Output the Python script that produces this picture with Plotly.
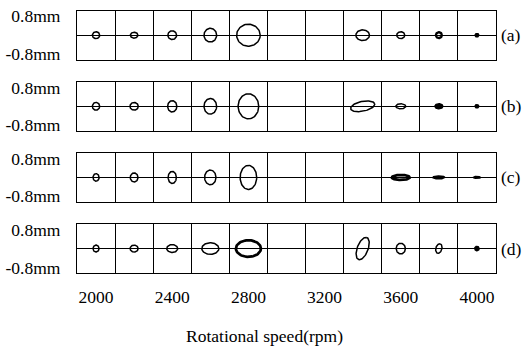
import numpy as np
import plotly.graph_objects as go

# ---------------- data ----------------
speeds = [2000, 2200, 2400, 2600, 2800, 3000, 3200, 3400, 3600, 3800, 4000]
tick_speeds = [2000, 2400, 2800, 3200, 3600, 4000]
row_labels = ["(a)", "(b)", "(c)", "(d)"]
y_tick_vals = [0.8, -0.8]
y_tick_text = ["0.8mm", "-0.8mm"]

# orbit peak-to-peak amplitudes (mm): first axis, second axis, and tilt of first axis (deg)
orbit_a_1 = [0.30, 0.31, 0.36, 0.52, 0.97, None, None, 0.56, 0.33, 0.25, 0.16]
orbit_a_2 = [0.29, 0.25, 0.37, 0.58, 0.93, None, None, 0.45, 0.29, 0.25, 0.14]
orbit_a_tilt = [0, 0, 0, 0, 0, 0, 0, 0, 0, 0, 0]

orbit_b_1 = [0.30, 0.34, 0.38, 0.52, 0.85, None, None, 1.01, 0.41, 0.33, 0.16]
orbit_b_2 = [0.33, 0.33, 0.48, 0.66, 1.06, None, None, 0.41, 0.21, 0.21, 0.14]
orbit_b_tilt = [0, 0, 0, 0, 0, 0, 0, 12, 0, 0, 0]

orbit_c_1 = [0.25, 0.32, 0.34, 0.47, 0.68, None, None, None, 0.74, 0.49, 0.29]
orbit_c_2 = [0.32, 0.38, 0.51, 0.62, 1.02, None, None, None, 0.21, 0.12, 0.08]
orbit_c_tilt = [0, 0, 0, 0, 0, 0, 0, 0, 0, 0, 0]

orbit_d_1 = [0.25, 0.33, 0.45, 0.70, 1.03, None, None, 0.99, 0.38, 0.41, 0.18]
orbit_d_2 = [0.29, 0.29, 0.33, 0.49, 0.70, None, None, 0.45, 0.45, 0.25, 0.18]
orbit_d_tilt = [0, 0, 0, 0, 0, 0, 0, 70, 0, 75, 0]

rows = [
    (orbit_a_1, orbit_a_2, orbit_a_tilt),
    (orbit_b_1, orbit_b_2, orbit_b_tilt),
    (orbit_c_1, orbit_c_2, orbit_c_tilt),
    (orbit_d_1, orbit_d_2, orbit_d_tilt),
]

# ---------------- styling / layout ----------------
W, H = 527, 350
FONT = "Liberation Serif"
FS = 17.5
x_left, x_right = 77, 496
row_px = [(7, 57), (80, 130), (153, 203), (226, 276)]
y_half = 1.03
x_lo = speeds[0] - 100
x_hi = speeds[-1] + 100

# pixel scales -> convert mm horizontal into rpm units so orbits stay isotropic
px_per_mm = (row_px[0][1] - row_px[0][0]) / (2 * y_half)
rpm_per_px = (x_hi - x_lo) / (x_right - x_left)
rpm_per_mm = px_per_mm * rpm_per_px

filled = {(0, 4000), (1, 3800), (1, 4000), (2, 3800), (2, 4000), (3, 4000)}
thick = {(0, 3800): 2.3, (2, 3600): 2.7, (3, 2800): 2.7}

fig = go.Figure()
t = np.linspace(0, 2 * np.pi, 80)

for r, (a1, a2, tilt) in enumerate(rows):
    xa = "x" if r == 0 else f"x{r+1}"
    ya = "y" if r == 0 else f"y{r+1}"
    for i, s in enumerate(speeds):
        if a1[i] is None:
            continue
        a = a1[i] / 2
        b = a2[i] / 2
        th = np.deg2rad(tilt[i])
        ex = a * np.cos(th) * np.cos(t) - b * np.sin(th) * np.sin(t)
        ey = a * np.sin(th) * np.cos(t) + b * np.cos(th) * np.sin(t)
        key = (r, s)
        fig.add_trace(go.Scatter(
            x=s + ex * rpm_per_mm, y=ey, mode="lines",
            line=dict(color="black", width=thick.get(key, 1.5)),
            fill="toself" if key in filled else None,
            fillcolor="black",
            xaxis=xa, yaxis=ya, showlegend=False, hoverinfo="skip"))

layout = dict(
    width=W, height=H, autosize=False,
    margin=dict(l=0, r=0, t=0, b=0),
    paper_bgcolor="white", plot_bgcolor="white",
    font=dict(family=FONT, size=FS, color="black"),
    showlegend=False,
)
annotations = []
for r in range(4):
    top, bot = row_px[r]
    xk = "xaxis" if r == 0 else f"xaxis{r+1}"
    yk = "yaxis" if r == 0 else f"yaxis{r+1}"
    layout[xk] = dict(
        domain=[x_left / W, x_right / W],
        range=[x_lo, x_hi],
        anchor="y" if r == 0 else f"y{r+1}",
        tickvals=tick_speeds,
        ticktext=[str(v) for v in tick_speeds],
        showticklabels=(r == 3),
        ticks="", showgrid=False, zeroline=False,
        showline=True, mirror=True, linecolor="black", linewidth=1.2,
        minor=dict(tickvals=[s + 100 for s in speeds[:-1]], showgrid=True,
                   gridcolor="black", gridwidth=1.2, ticks=""),
        ticklabelstandoff=8,
        fixedrange=True,
    )
    if r != 0:
        layout[xk]["matches"] = "x"
    layout[yk] = dict(
        domain=[1 - bot / H, 1 - top / H],
        range=[-y_half, y_half],
        anchor="x" if r == 0 else f"x{r+1}",
        tickvals=y_tick_vals, ticktext=y_tick_text,
        ticks="", showgrid=False,
        zeroline=True, zerolinecolor="black", zerolinewidth=1.2,
        showline=True, mirror=True, linecolor="black", linewidth=1.2,
        ticklabelstandoff=12,
        fixedrange=True,
    )
    annotations.append(dict(
        text=row_labels[r], xref="paper", yref="paper",
        x=499 / W, y=1 - ((top + bot) / 2) / H,
        xanchor="left", yanchor="middle", showarrow=False,
        font=dict(family=FONT, size=FS, color="black")))

annotations.append(dict(
    text="Rotational speed(rpm)", xref="paper", yref="paper",
    x=264 / W, y=1 - 341 / H, xanchor="center", yanchor="middle",
    showarrow=False, font=dict(family=FONT, size=FS, color="black")))
layout["annotations"] = annotations

fig.update_layout(**layout)
fig.write_html("out.html", config={"displayModeBar": False})
